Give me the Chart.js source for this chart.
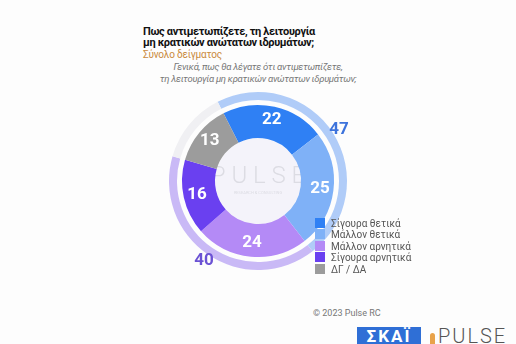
<!DOCTYPE html>
<html>
<head>
<meta charset="utf-8">
<script src="https://cdn.jsdelivr.net/npm/chart.js@4"></script>
<style>
  body { margin: 0; width: 516px; height: 344px; background: #fdfdfd; overflow: hidden; position: relative; font-family: Roboto, sans-serif; }
  #wrap { position: absolute; left: 138px; top: 81px; width: 240px; height: 200px; }
  .t { position: absolute; white-space: nowrap; }
  #title { left: 143px; top: 26px; font-size: 11px; font-weight: bold; line-height: 11px; color: #111; letter-spacing: -0.35px; }
  #sample { left: 143px; top: 49px; font-size: 10px; color: #c98a3c; letter-spacing: -0.2px; }
  #sub { left: 150px; width: 216px; top: 61px; font-size: 9.5px; line-height: 11.5px; color: #777; font-style: italic; text-align: center; letter-spacing: -0.3px; }
  #legend { position: absolute; left: 315px; top: 218px; font-size: 10px; color: #555; }
  #legend div { height: 11.4px; line-height: 11px; white-space: nowrap; }
  #legend span { display: inline-block; width: 10px; height: 10px; vertical-align: top; margin-right: 6px; }
  #copy { left: 313px; top: 308px; font-size: 9px; color: #777; }
  #skai { position: absolute; left: 357px; top: 327px; width: 64px; height: 17px; background: #2f6fd6; color: #fff; font-size: 17px; font-weight: bold; text-align: center; line-height: 19px; letter-spacing: 2px; }
  #pulse { left: 438px; top: 324px; font-size: 20px; color: #555; letter-spacing: 2px; font-weight: 300; }
  #flame { position: absolute; left: 430px; top: 333px; width: 5px; height: 11px; background: #e8a24a; border-radius: 3px 3px 0 0; }
</style>
</head>
<body>
<div class="t" id="title">Πως αντιμετωπίζετε, τη λειτουργία<br>μη κρατικών ανώτατων ιδρυμάτων;</div>
<div class="t" id="sample">Σύνολο δείγματος</div>
<div class="t" id="sub">Γενικά, πως θα λέγατε ότι αντιμετωπίζετε,<br>τη λειτουργία μη κρατικών ανώτατων ιδρυμάτων;</div>
<div id="wrap"><canvas id="myChart"></canvas></div>
<div id="legend"></div>
<div class="t" id="copy">© 2023 Pulse RC</div>
<div id="skai">ΣΚΑΪ</div>
<div id="flame"></div>
<div class="t" id="pulse">PULSE</div>
<script>
// inner ring: answers
var labels = ['Σίγουρα θετικά', 'Μάλλον θετικά', 'Μάλλον αρνητικά', 'Σίγουρα αρνητικά', 'ΔΓ / ΔΑ'];
var values = [22, 25, 24, 16, 13];
var colors = ['#2f80f4', '#7fb1f7', '#b48af6', '#6a40f0', '#9c9c9c'];

// outer ring: totals (positive / negative / dk)
var totals = [47, 40, 13];
var totalColors = ['#b0ccf8', '#c9b9f6', '#f0f0f3'];
var totalLabelColors = ['#3d73dc', '#6b52d4', null];

var legend = document.getElementById('legend');
labels.forEach(function (l, i) {
    var d = document.createElement('div');
    d.innerHTML = '<span style="background:' + colors[i] + '"></span>' + l;
    legend.appendChild(d);
});

const ctx = document.getElementById('myChart');

const ringLabels = {
    id: 'ringLabels',
    beforeDatasetsDraw(chart) {
        var arc = chart.getDatasetMeta(2).data[0];
        if (!arc) return;
        var c = chart.ctx;
        c.save();
        c.beginPath();
        c.arc(arc.x, arc.y, arc.innerRadius, 0, Math.PI * 2);
        c.fillStyle = '#f4f3fa';
        c.fill();
        c.fillStyle = '#dcdce3';
        c.font = '300 24px Roboto';
        c.textAlign = 'center';
        c.textBaseline = 'middle';
        c.fillText('P U L S E', arc.x, arc.y - 4);
        c.font = '4px Roboto';
        c.fillText('RESEARCH & CONSULTING', arc.x, arc.y + 12);
        c.restore();
    },
    afterDatasetsDraw(chart) {
        var c = chart.ctx;
        c.save();
        c.textAlign = 'center';
        c.textBaseline = 'middle';
        c.font = 'bold 17px Roboto';
        c.fillStyle = '#ffffff';
        chart.getDatasetMeta(2).data.forEach(function (a, i) {
            var mid = (a.startAngle + a.endAngle) / 2;
            var r = (a.innerRadius + a.outerRadius) / 2 + 3;
            c.fillText(values[i], a.x + Math.cos(mid) * r, a.y + Math.sin(mid) * r);
        });
        chart.getDatasetMeta(0).data.forEach(function (a, i) {
            if (!totalLabelColors[i]) return;
            var mid = (a.startAngle + a.endAngle) / 2;
            var r = a.outerRadius + 7;
            c.fillStyle = totalLabelColors[i];
            c.fillText(totals[i], a.x + Math.cos(mid) * r, a.y + Math.sin(mid) * r);
        });
        c.restore();
    }
};

const chart = new Chart(ctx, {
    type: 'doughnut',
    data: {
        labels: labels,
        datasets: [
            { data: totals, backgroundColor: totalColors, borderWidth: 0, weight: 8 },
            { data: [1], backgroundColor: 'rgba(0,0,0,0)', borderWidth: 0, weight: 5 },
            { data: values, backgroundColor: colors, borderWidth: 0, weight: 33 }
        ]
    },
    options: {
        maintainAspectRatio: false,
        responsive: true,
        animation: false,
        rotation: -27,
        cutout: '48.3%',
        layout: { padding: { top: 11, bottom: 11, left: 31, right: 31 } },
        plugins: {
            legend: { display: false },
            tooltip: { enabled: false }
        }
    },
    plugins: [ringLabels]
});
</script>
</body>
</html>
